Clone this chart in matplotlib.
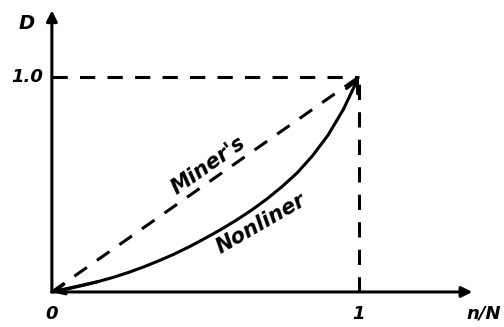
import matplotlib
matplotlib.use('Agg')
import matplotlib.pyplot as plt

# Nonlinear damage curve
ratio = [0.0, 0.05, 0.1, 0.15, 0.2, 0.25, 0.3, 0.35, 0.4, 0.45, 0.5,
         0.55, 0.6, 0.65, 0.7, 0.75, 0.8, 0.85, 0.9, 0.95, 1.0]
damage = [0.0, 0.014, 0.030, 0.048, 0.068, 0.091, 0.117, 0.146, 0.177, 0.212, 0.25,
          0.29, 0.333, 0.38, 0.432, 0.49, 0.555, 0.635, 0.73, 0.85, 1.0]

# Miner's linear rule
miner_x = [0.0, 1.0]
miner_y = [0.0, 1.0]

x_ticks = [0, 1]
x_tick_labels = ['0', '1']
y_tick = 1.0
y_tick_label = '1.0'

font = dict(family='DejaVu Sans', style='italic', weight='bold', color='black')

fig = plt.figure(figsize=(5.04, 3.27), dpi=100)
ax = fig.add_axes([0, 0, 1, 1])
ax.set_xlim(-0.169, 1.473)
ax.set_ylim(-0.163, 1.358)
ax.axis('off')

lw = 2.2

# axes with arrows
ax.annotate('', xy=(1.37, 0), xytext=(0, 0),
            arrowprops=dict(arrowstyle='-|>', lw=lw, color='black',
                            mutation_scale=16, shrinkA=0, shrinkB=0))
ax.annotate('', xy=(0, 1.31), xytext=(0, 0),
            arrowprops=dict(arrowstyle='-|>', lw=lw, color='black',
                            mutation_scale=16, shrinkA=0, shrinkB=0))

# dashed guides at D = 1 and n/N = 1
ax.plot([0, 1], [y_tick, y_tick], ls=(0, (5, 4)), lw=lw, color='black')
ax.plot([1, 1], [0, y_tick], ls=(0, (5, 4)), lw=lw, color='black')

# Miner's line
ax.plot(miner_x, miner_y, ls=(0, (5, 4)), lw=lw, color='black')

# nonlinear curve, arrow heads at both ends
ax.plot(ratio[:-1], damage[:-1], lw=lw, color='black', solid_capstyle='round')
ax.annotate('', xy=(ratio[-1], damage[-1]), xytext=(ratio[-2], damage[-2]),
            arrowprops=dict(arrowstyle='->', lw=lw, color='black',
                            mutation_scale=22, shrinkA=0, shrinkB=0))
ax.annotate('', xy=(ratio[0], damage[0]), xytext=(ratio[3], damage[3]),
            arrowprops=dict(arrowstyle='->', lw=lw, color='black',
                            mutation_scale=18, shrinkA=0, shrinkB=0))

# labels
for xv, lab in zip(x_ticks, x_tick_labels):
    ax.text(xv, -0.06, lab, ha='center', va='top', fontsize=13, **font)
ax.text(-0.03, y_tick, y_tick_label, ha='right', va='center', fontsize=13, **font)
ax.text(-0.055, 1.25, 'D', ha='right', va='center', fontsize=14, **font)
ax.text(1.462, -0.06, 'n/N', ha='right', va='top', fontsize=13, **font)

ax.text(0.51, 0.59, "Miner's", ha='center', va='center', rotation=35,
        fontsize=15, **font)
ax.text(0.68, 0.315, 'Nonliner', ha='center', va='center', rotation=30,
        fontsize=15, **font)

fig.savefig('out.png', dpi=100)
